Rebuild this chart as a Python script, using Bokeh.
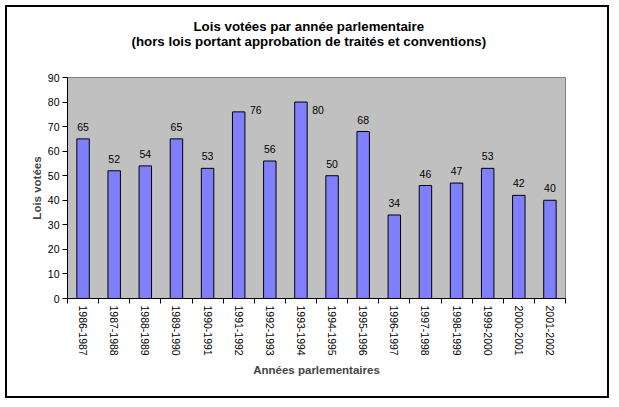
from bokeh.plotting import figure
from bokeh.models import ColumnDataSource, FixedTicker, Range1d, Label, Title
from bokeh.core.properties import value
from bokeh.embed import file_html
from bokeh.resources import INLINE

title_lines = ["Lois votées par année parlementaire",
               "(hors lois portant approbation de traités et conventions)"]
years = ["1986-1987", "1987-1988", "1988-1989", "1989-1990", "1990-1991",
         "1991-1992", "1992-1993", "1993-1994", "1994-1995", "1995-1996",
         "1996-1997", "1997-1998", "1998-1999", "1999-2000", "2000-2001",
         "2001-2002"]
lois = [65, 52, 54, 65, 53, 76, 56, 80, 50, 68, 34, 46, 47, 53, 42, 40]
y_ticks = [0, 10, 20, 30, 40, 50, 60, 70, 80, 90]
x_title = "Années parlementaires"
y_title = "Lois votées"

FONT = "Liberation Sans"
SMALL = "10.5px"
AXT = "11.5px"
n = len(years)
xs = [i + 0.5 for i in range(n)]

W, H = 604, 393
p = figure(width=W, height=H, output_backend="svg", toolbar_location=None,
           x_range=Range1d(0, n), y_range=Range1d(0, 90),
           min_border_left=60, min_border_right=46, min_border_top=70,
           min_border_bottom=102)
p.styles = {"border": "2px solid black"}
p.margin = (5, 0, 0, 5)
p.background_fill_color = "#C0C0C0"
p.border_fill_color = "white"
p.outline_line_color = "#808080"
p.outline_line_width = 1
p.xgrid.visible = False
p.ygrid.visible = False

src = ColumnDataSource(dict(x=xs, top=lois))
p.vbar(x="x", top="top", width=0.4, bottom=0, source=src,
       fill_color="#8080FF", line_color="black", line_width=1)

# data labels: above bars, except those near the top placed to the right
above_idx = [i for i, v in enumerate(lois) if v < 75]
right_idx = [i for i, v in enumerate(lois) if v >= 75]
sa = ColumnDataSource(dict(x=[xs[i] for i in above_idx], y=[lois[i] for i in above_idx],
                           t=[str(lois[i]) for i in above_idx]))
p.text(x="x", y="y", text="t", source=sa, text_align="center",
       text_baseline="alphabetic", y_offset=-12, text_font=value(FONT),
       text_font_size=SMALL, text_color="black")
for i in right_idx:
    up = 2 if lois[i] < 78 else -8
    p.add_layout(Label(x=xs[i] + 0.2, y=lois[i], text=str(lois[i]), x_offset=5,
                       y_offset=up, text_align="left", text_baseline="middle",
                       text_font=FONT, text_font_size=SMALL, text_color="black"))

# axes
xa = p.xaxis[0]
xa.ticker = FixedTicker(ticks=xs, minor_ticks=list(range(n + 1)))
xa.major_label_overrides = {x: y for x, y in zip(xs, years)}
xa.major_label_orientation = "vertical"
xa.major_tick_in = 0
xa.major_tick_out = 0
xa.minor_tick_in = 0
xa.minor_tick_out = 5
xa.minor_tick_line_color = "black"
xa.axis_line_color = "black"
xa.major_label_standoff = 2
xa.major_label_text_font = FONT
xa.major_label_text_font_size = SMALL
xa.major_label_text_color = "black"
xa.axis_label = x_title
xa.axis_label_text_font = FONT
xa.axis_label_text_font_size = AXT
xa.axis_label_text_font_style = "bold"
xa.axis_label_standoff = 5

ya = p.yaxis[0]
ya.ticker = FixedTicker(ticks=y_ticks, minor_ticks=[])
ya.major_tick_in = 0
ya.major_tick_out = 5
ya.major_tick_line_color = "black"
ya.axis_line_color = "black"
ya.major_label_standoff = 3
ya.major_label_text_font = FONT
ya.major_label_text_font_size = SMALL
ya.major_label_text_color = "black"
ya.axis_label = y_title
ya.axis_label_text_font = FONT
ya.axis_label_text_font_size = AXT
ya.axis_label_text_font_style = "bold"
ya.axis_label_standoff = 2

# spacer between plot area and the title block, then the two title lines
p.add_layout(Title(text=" ", text_font_size="1px", standoff=26), "above")
offsets = [126, 64]
standoffs = [-4, 0]
for k in (1, 0):
    p.add_layout(Title(text=title_lines[k], align="left", offset=offsets[k],
                       standoff=standoffs[k], text_font=FONT,
                       text_font_size="13.3px", text_font_style="bold",
                       text_color="black"), "above")

open("out.html", "w").write(file_html(p, INLINE))
